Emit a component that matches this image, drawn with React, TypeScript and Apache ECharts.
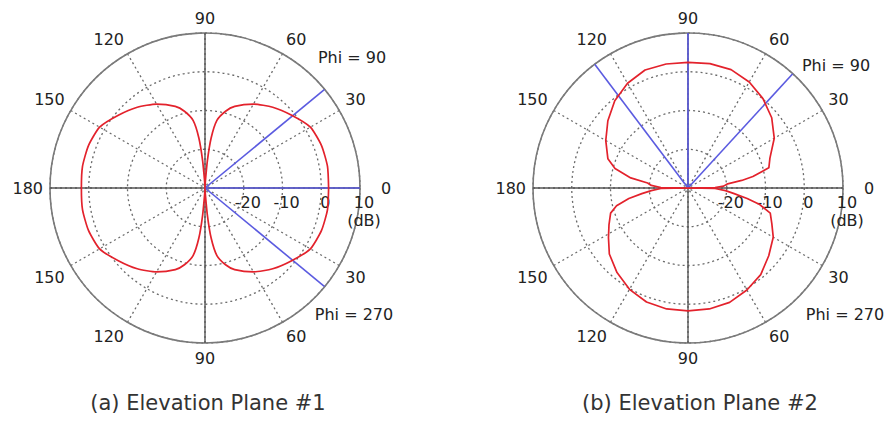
import React, { useEffect, useRef } from "react";
import * as echarts from "echarts";

// Plot (a): elevation plane #1, gain in dB vs angle (deg)
const p1Angles = [0, 10, 20, 30, 40, 50, 60, 70, 75, 80, 83, 85, 88, 90, 92, 95, 97, 100, 105, 110, 120, 130, 140, 150, 160, 170, 180, 190, 200, 210, 220, 230, 240, 250, 255, 260, 263, 265, 268, 270, 272, 275, 277, 280, 285, 290, 300, 310, 320, 330, 340, 350, 360];
const p1Values = [1.9, 2.1, 2.0, 1.4, -0.8, -2.8, -5.0, -7.6, -9.5, -12.3, -17, -23, -29, -30, -29, -23, -17, -12.3, -9.5, -7.6, -5.0, -2.8, -0.8, 1.4, 2.0, 2.1, 1.9, 2.1, 2.0, 1.4, -0.8, -2.8, -5.0, -7.6, -9.5, -12.3, -17, -23, -29, -30, -29, -23, -17, -12.3, -9.5, -7.6, -5.0, -2.8, -0.8, 1.4, 2.0, 2.1, 1.9];

// Plot (b): elevation plane #2
const p2Angles = [0, 1, 3, 6, 8, 10, 14, 20, 30, 40, 50, 60, 70, 80, 90, 100, 110, 120, 130, 140, 150, 160, 165, 170, 173, 176, 179, 180, 181, 184, 187, 190, 194, 198, 205, 212, 220, 230, 240, 250, 260, 270, 280, 290, 300, 310, 320, 330, 337, 343, 347, 350, 353, 356, 359, 360];
const p2Values = [-30, -23, -20.8, -19.7, -16, -13, -8.5, -7.5, -4.3, -1.8, 0.1, 1.6, 2.5, 2.6, 2.4, 2.5, 2.4, 1.2, -0.6, -3, -5.5, -8, -10.5, -15, -19.5, -20.5, -23, -30, -23, -20.5, -18, -14.5, -11, -9, -7.5, -5.8, -3.5, -1.5, 0.2, 1.3, 1.7, 1.7, 1.7, 1.4, 0.4, -0.8, -2.8, -4.6, -6.5, -7.8, -11, -14.5, -18, -20.3, -23, -30];

// Phi cut directions (deg)
const p1PhiLines = [0, 39.5, 320.5];
const p2PhiLines = [47.5, 90, 127];

// Axes
const radiusTicks = { min: -30, max: 10, interval: 10 };
const angleTicks = { min: 0, max: 360, interval: 30 };

const captions = ["(a) Elevation Plane #1", "(b) Elevation Plane #2"];
const phiLabels = ["Phi = 90", "Phi = 270"];

const FONT = "DejaVu Sans";
const centers = [
  [205, 188],
  [688, 188],
];
const R = 155;

function buildAxes(i: number) {
  const angleAxis = {
    polarIndex: i,
    type: "value",
    min: angleTicks.min,
    max: angleTicks.max,
    interval: angleTicks.interval,
    startAngle: 0,
    clockwise: false,
    axisLine: { show: true, lineStyle: { color: "#7a7a7a", width: 1.6 } },
    axisTick: { show: false },
    axisLabel: {
      margin: 7,
      color: "#222",
      fontFamily: FONT,
      fontSize: 16,
      formatter: (v: number) => {
        if (v >= 360) return "";
        if (v === 0) return "{z|0}";
        return String(v > 180 ? 360 - v : v);
      },
      rich: { z: { padding: [0, 0, 0, 14], fontFamily: FONT, fontSize: 16, color: "#222" } },
    },
    splitLine: { show: true, lineStyle: { color: "#6a6a6a", type: [2, 3], width: 1.3 } },
  };
  const radiusAxis = {
    polarIndex: i,
    type: "value",
    min: radiusTicks.min,
    max: radiusTicks.max,
    interval: radiusTicks.interval,
    axisLine: { show: false },
    axisTick: { show: false },
    axisLabel: {
      color: "#222",
      fontFamily: FONT,
      fontSize: 16,
      margin: 0,
      verticalAlign: "top",
      padding: [5, 0, 0, 8],
      lineHeight: 18,
      formatter: (v: number) => {
        if (v <= radiusTicks.min) return "";
        if (v >= radiusTicks.max) return "10\n(dB)";
        return String(v);
      },
    },
    splitLine: { show: true, lineStyle: { color: "#6a6a6a", type: [2, 3], width: 1.3 } },
  };
  return { angleAxis, radiusAxis };
}

function crossSeries(i: number) {
  return [
    {
      type: "line",
      coordinateSystem: "polar",
      polarIndex: i,
      data: [
        [radiusTicks.max, 0],
        [radiusTicks.min, 0],
        [radiusTicks.max, 180],
      ],
      symbol: "none",
      lineStyle: { color: "#555", width: 1.4 },
      silent: true,
      z: 2,
    },
    {
      type: "line",
      coordinateSystem: "polar",
      polarIndex: i,
      data: [
        [radiusTicks.max, 90],
        [radiusTicks.min, 90],
        [radiusTicks.max, 270],
      ],
      symbol: "none",
      lineStyle: { color: "#555", width: 1.4 },
      silent: true,
      z: 2,
    },
  ];
}

function phiSeries(i: number, angles: number[]) {
  return angles.map((a) => ({
    type: "line",
    coordinateSystem: "polar",
    polarIndex: i,
    data: [
      [radiusTicks.min, a],
      [radiusTicks.max, a],
    ],
    symbol: "none",
    lineStyle: { color: "#5b5be0", width: 1.6 },
    silent: true,
    z: 3,
  }));
}

function patternSeries(i: number, angles: number[], values: number[], smooth: number | boolean) {
  return {
    type: "line",
    coordinateSystem: "polar",
    polarIndex: i,
    data: angles.map((a, k) => [Math.max(values[k], radiusTicks.min), a]),
    symbol: "none",
    smooth,
    lineStyle: { color: "#e3222c", width: 1.7 },
    silent: true,
    z: 4,
  };
}

export default function App() {
  const ref = useRef<HTMLDivElement>(null);
  useEffect(() => {
    if (!ref.current) return;
    const chart = echarts.init(ref.current, undefined, { renderer: "svg" });
    const a0 = buildAxes(0);
    const a1 = buildAxes(1);
    const textStyle = { fill: "#222", font: `16px "${FONT}"`, textAlign: "center", textVerticalAlign: "middle" };
    chart.setOption({
      animation: false,
      backgroundColor: "#ffffff",
      textStyle: { fontFamily: FONT },
      polar: [
        { center: centers[0], radius: R },
        { center: centers[1], radius: R },
      ],
      angleAxis: [a0.angleAxis, a1.angleAxis],
      radiusAxis: [a0.radiusAxis, a1.radiusAxis],
      series: [
        ...crossSeries(0),
        ...crossSeries(1),
        ...phiSeries(0, p1PhiLines),
        ...phiSeries(1, p2PhiLines),
        patternSeries(0, p1Angles, p1Values, 0.2),
        patternSeries(1, p2Angles, p2Values, false),
      ],
      graphic: [
        { type: "text", x: centers[0][0] + 147, y: 57, style: { ...textStyle, text: phiLabels[0] } },
        { type: "text", x: centers[0][0] + 149, y: 314, style: { ...textStyle, text: phiLabels[1] } },
        { type: "text", x: centers[1][0] + 148, y: 65, style: { ...textStyle, text: phiLabels[0] } },
        { type: "text", x: centers[1][0] + 157, y: 314, style: { ...textStyle, text: phiLabels[1] } },
        { type: "text", x: 208, y: 403, style: { ...textStyle, fill: "#333", font: `21px "${FONT}"`, text: captions[0] } },
        { type: "text", x: 700, y: 403, style: { ...textStyle, fill: "#333", font: `21px "${FONT}"`, text: captions[1] } },
      ],
    });
    return () => chart.dispose();
  }, []);
  return (
    <div
      ref={ref}
      style={{ position: "absolute", left: 0, top: 0, width: 890, height: 421, background: "#fff" }}
    />
  );
}
